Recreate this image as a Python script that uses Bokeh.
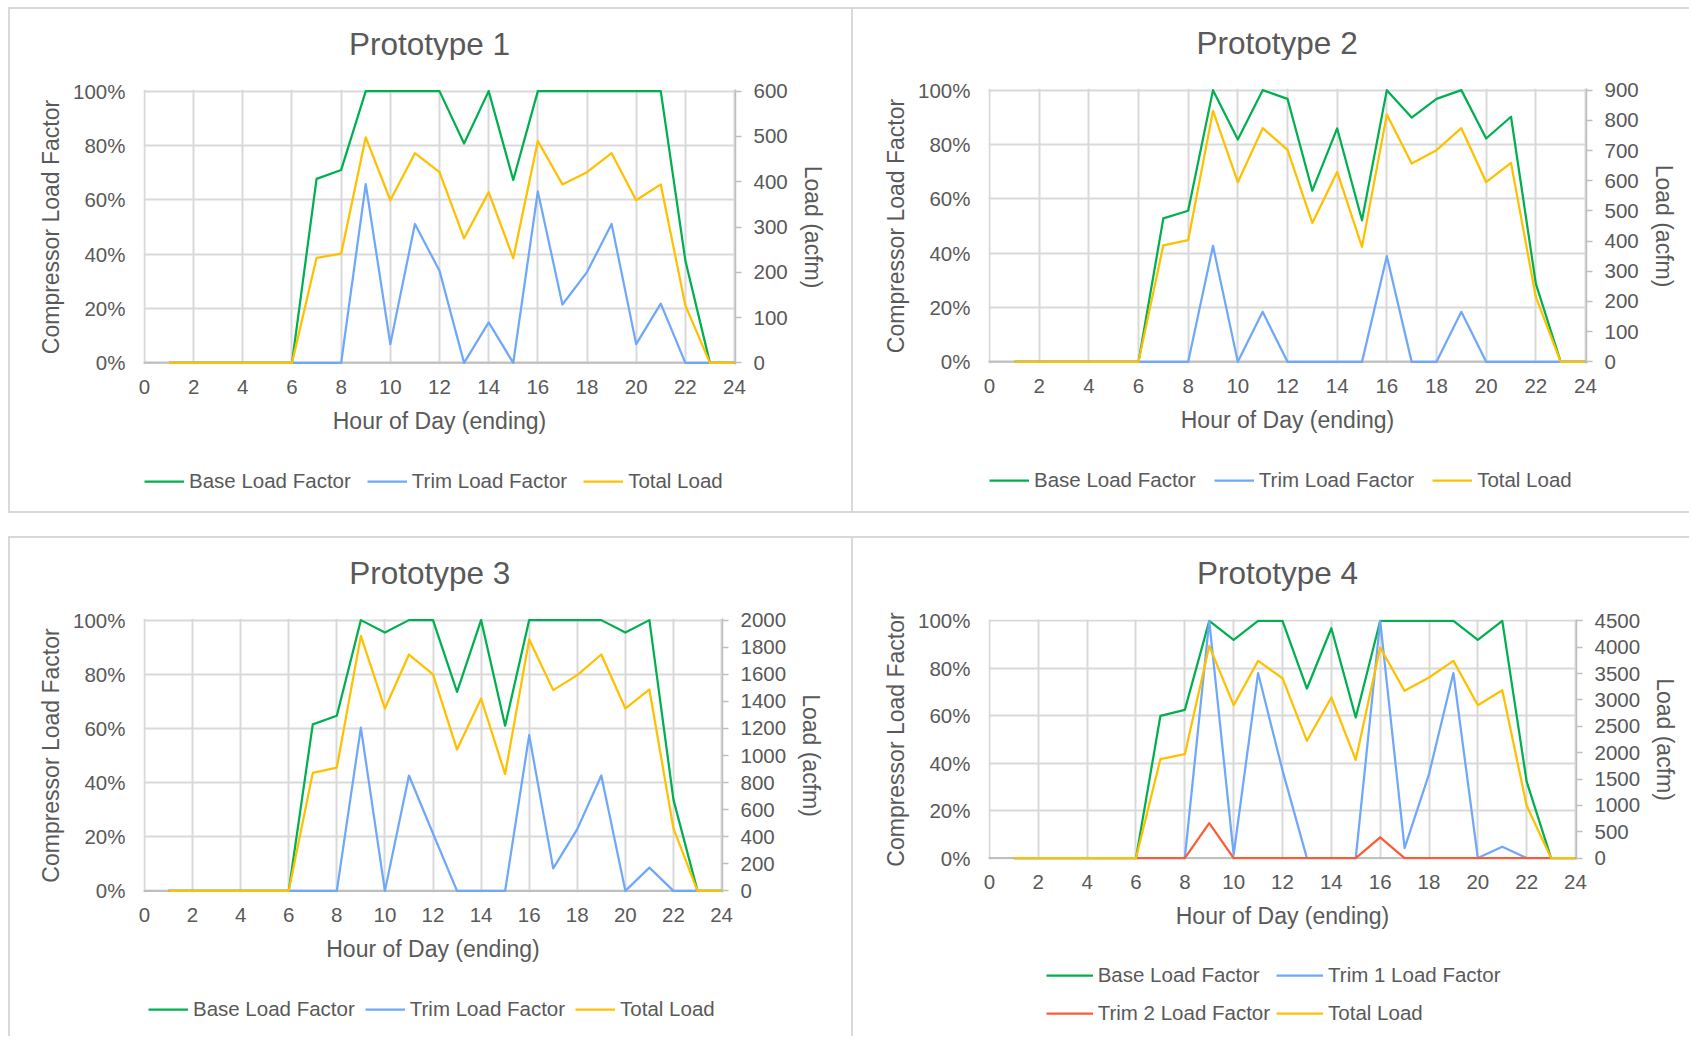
import math
from bokeh.plotting import figure
from bokeh.models import (Range1d, LinearAxis, FixedTicker, NumeralTickFormatter,
                          Legend, LegendItem, Span, Label)
from bokeh.layouts import column, row
from bokeh.embed import file_html
from bokeh.resources import INLINE

# ---------------- data ----------------
hours = list(range(1, 25))
x_ticks = list(range(0, 25, 2))
pct_ticks = [0, 0.2, 0.4, 0.6, 0.8, 1.0]

p1_base = [0, 0, 0, 0, 0, 0, 0.677, 0.71, 1, 1, 1, 1, 0.807, 1, 0.673, 1, 1, 1, 1, 1, 1, 0.377, 0, 0]
p1_trim = [0, 0, 0, 0, 0, 0, 0, 0, 0.658, 0.069, 0.511, 0.339, 0, 0.149, 0, 0.631, 0.215, 0.334, 0.511, 0.069, 0.218, 0, 0, 0]
p1_total = [0, 0, 0, 0, 0, 0, 232, 241, 498, 359, 463, 421, 275, 377, 231, 490, 394, 421, 463, 359, 394, 127, 0, 0]

p2_base = [0, 0, 0, 0, 0, 0, 0.528, 0.556, 1, 0.818, 1, 0.968, 0.63, 0.859, 0.521, 1, 0.899, 0.968, 1, 0.822, 0.902, 0.288, 0, 0]
p2_trim = [0, 0, 0, 0, 0, 0, 0, 0, 0.427, 0, 0.184, 0, 0, 0, 0, 0.389, 0, 0, 0.184, 0, 0, 0, 0, 0]
p2_total = [0, 0, 0, 0, 0, 0, 386, 403, 831, 595, 774, 702, 460, 629, 381, 819, 657, 701, 774, 595, 659, 215, 0, 0]

p3_base = [0, 0, 0, 0, 0, 0, 0.615, 0.647, 1, 0.954, 1, 1, 0.735, 1, 0.61, 1, 1, 1, 1, 0.954, 1, 0.337, 0, 0]
p3_trim = [0, 0, 0, 0, 0, 0, 0, 0, 0.603, 0, 0.426, 0.212, 0, 0, 0, 0.575, 0.083, 0.228, 0.426, 0, 0.086, 0, 0, 0]
p3_total = [0, 0, 0, 0, 0, 0, 872, 911, 1884, 1347, 1746, 1599, 1044, 1421, 862, 1857, 1483, 1594, 1746, 1347, 1488, 461, 0, 0]

p4_base = [0, 0, 0, 0, 0, 0, 0.60, 0.625, 1, 0.92, 1, 1, 0.715, 0.969, 0.593, 1, 1, 1, 1, 0.92, 1, 0.322, 0, 0]
p4_trim1 = [0, 0, 0, 0, 0, 0, 0, 0, 1, 0.015, 0.78, 0.37, 0, 0, 0, 1, 0.042, 0.354, 0.78, 0, 0.048, 0, 0, 0]
p4_trim2 = [0, 0, 0, 0, 0, 0, 0, 0, 0.147, 0, 0, 0, 0, 0, 0, 0.087, 0, 0, 0, 0, 0, 0, 0, 0]
p4_total = [0, 0, 0, 0, 0, 0, 1877, 1972, 4026, 2901, 3742, 3413, 2225, 3047, 1865, 3995, 3173, 3426, 3742, 2901, 3186, 992, 0, 0]

titles = ["Prototype 1", "Prototype 2", "Prototype 3", "Prototype 4"]
load_max = [600, 900, 2000, 4500]
load_step = [100, 100, 200, 500]

# ---------------- style ----------------
FONT = "Liberation Sans"
TXT = "#595959"
GRID = "#D9D9D9"
AXIS = "#BFBFBF"
GREEN = "#00B050"
BLUE = "#6FA8FA"
YELLOW = "#FFC000"
RED = "#FF5A36"
LW = 2.25


def blank_fig(w, h, xr):
    f = figure(width=w, height=h, output_backend="svg", toolbar_location=None,
               x_range=Range1d(*xr), y_range=Range1d(0, h),
               x_axis_location=None, y_axis_location=None, min_border=0,
               outline_line_color=None, background_fill_color=None, border_fill_color=None)
    for g in f.grid:
        g.visible = False
    return f


def make_panel(title, series, lmax, lstep, geo):
    cx, cy, w, h = geo["canvas"]
    th, mh = geo["rows"]          # heights of title strip and chart strip
    lh = h - th - mh              # legend strip
    my = cy + th                  # top of chart strip (page)
    x0, x24, y100, y0 = geo["frame"]
    padx, pady = 0.04, 0.006
    pxh = (x24 - x0) / 24.0
    pyu = (y0 - y100)
    fl = x0 - padx * pxh
    fr = x24 + padx * pxh
    ft = y100 - pady * pyu
    fb = y0 + pady * pyu

    # ---- title strip (its frame is aligned with the chart frame) ----
    tf = blank_fig(w, th, (fl, fr))
    tx, ty = geo["title"]
    tf.add_layout(Label(x=tx, y=th - (ty - cy), text=title, text_align="center",
                        text_baseline="middle", text_font=FONT, text_font_size="31.5px",
                        text_color=TXT))

    # ---- chart ----
    p = figure(width=w, height=mh, output_backend="svg", toolbar_location=None,
               x_range=Range1d(-padx, 24 + padx), y_range=Range1d(-pady, 1 + pady),
               min_border_left=int(round(fl - cx)), min_border_right=int(round(cx + w - fr)),
               min_border_top=int(round(ft - my)), min_border_bottom=int(round(my + mh - fb)),
               border_fill_color=None, outline_line_color=None)
    p.extra_y_ranges = {"load": Range1d(-pady * lmax, lmax * (1 + pady))}

    p.xgrid.grid_line_color = GRID
    p.ygrid.grid_line_color = GRID
    p.xgrid.grid_line_width = 2
    p.ygrid.grid_line_width = 2
    p.add_layout(Span(location=0, dimension="width", line_color=AXIS, line_width=2, level="underlay"))

    xa = p.xaxis[0]
    xa.ticker = FixedTicker(ticks=x_ticks)
    xa.axis_line_color = None
    xa.major_tick_line_color = None
    xa.minor_tick_line_color = None
    xa.major_label_standoff = 9
    xa.axis_label = "Hour of Day (ending)"
    xa.axis_label_standoff = 11

    ya = p.yaxis[0]
    ya.ticker = FixedTicker(ticks=pct_ticks)
    ya.formatter = NumeralTickFormatter(format="0%")
    ya.axis_line_color = None
    ya.major_tick_line_color = None
    ya.minor_tick_line_color = None
    ya.major_label_standoff = 12
    ya.axis_label = "Compressor Load Factor"
    ya.axis_label_standoff = 6

    ra = LinearAxis(y_range_name="load", ticker=FixedTicker(ticks=list(range(0, lmax + 1, lstep))),
                    axis_label="Load (acfm)")
    ra.axis_line_color = AXIS
    ra.axis_line_width = 1.5
    ra.major_tick_line_color = AXIS
    ra.major_tick_line_width = 1.5
    ra.major_tick_out = 6
    ra.major_tick_in = 0
    ra.minor_tick_line_color = None
    ra.major_label_standoff = 12
    ra.axis_label_standoff = 9
    p.add_layout(ra, "right")

    for ax in (xa, ya, ra):
        ax.major_label_text_font = FONT
        ax.major_label_text_font_size = "20.5px"
        ax.major_label_text_color = TXT
        ax.axis_label_text_font = FONT
        ax.axis_label_text_font_size = "23px"
        ax.axis_label_text_color = TXT
        ax.axis_label_text_font_style = "normal"

    # ---- legend strip (its frame is aligned with the chart frame) ----
    lf = blank_fig(w, lh, (fl, fr))
    items = []
    for name, vals, color, rng in series:
        kw = {}
        if rng is not None:
            kw["y_range_name"] = rng
        p.line(hours, vals, line_color=color, line_width=LW, line_join="round", **kw)
        # single-point proxy (draws nothing) so the legend swatch has its style
        sw = lf.line(x=hours[:1], y=[-1000], line_color=color, line_width=LW)
        items.append(LegendItem(label=name, renderers=[sw]))

    lx, lyc, ncols, spacing, gh, gw = geo["legend"]
    nrows = (len(items) + ncols - 1) // ncols
    legend_bottom = lyc - gh / 2.0 + nrows * gh + (nrows - 1) * spacing
    leg = Legend(items=items, location=(lx - fl, cy + h - legend_bottom),
                 orientation="horizontal", ncols=ncols, spacing=spacing, padding=0, margin=0,
                 glyph_width=gw, glyph_height=gh, label_height=gh, label_standoff=5,
                 label_text_font=FONT, label_text_font_size="20.5px", label_text_color=TXT,
                 border_line_color=None, background_fill_alpha=0)
    lf.add_layout(leg, "center")

    return column(tf, p, lf, spacing=0, styles={"box-shadow": geo["shadow"]})


geos = [
    dict(canvas=(0, 0, 851, 513), rows=(60, 390), frame=(143.6, 734.4, 90.7, 362.3), title=(429, 43),
         legend=(143.6, 480.7, 3, 16, 24, 40),
         shadow="inset 8px 0 0 0 #FFFFFF, inset 0 7px 0 0 #FFFFFF, inset 10px 0 0 0 #D9D9D9, "
                "inset 0 9px 0 0 #D9D9D9, inset 0 -2px 0 0 #D9D9D9"),
    dict(canvas=(851, 0, 838, 513), rows=(60, 390), frame=(989.3, 1585.5, 90.0, 361.7), title=(1277, 42),
         legend=(989.3, 480.0, 3, 18, 24, 40),
         shadow="inset 0 7px 0 0 #FFFFFF, inset 2px 0 0 0 #D9D9D9, inset 0 9px 0 0 #D9D9D9, "
                "inset 0 -2px 0 0 #D9D9D9"),
    dict(canvas=(0, 536, 851, 500), rows=(60, 384), frame=(143.6, 720.9, 620.0, 890.7), title=(429, 572.7),
         legend=(147.6, 1009.3, 3, 10, 24, 40),
         shadow="inset 8px 0 0 0 #FFFFFF, inset 10px 0 0 0 #D9D9D9, inset 0 2px 0 0 #D9D9D9"),
    dict(canvas=(851, 536, 838, 500), rows=(60, 354), frame=(989.3, 1574.7, 620.0, 857.3), title=(1277, 572.7),
         legend=(1046, 975.0, 2, 6, 32, 47),
         shadow="inset 2px 2px 0 0 #D9D9D9"),
]

series_sets = [
    [("Base Load Factor", p1_base, GREEN, None), ("Trim Load Factor", p1_trim, BLUE, None),
     ("Total Load", p1_total, YELLOW, "load")],
    [("Base Load Factor", p2_base, GREEN, None), ("Trim Load Factor", p2_trim, BLUE, None),
     ("Total Load", p2_total, YELLOW, "load")],
    [("Base Load Factor", p3_base, GREEN, None), ("Trim Load Factor", p3_trim, BLUE, None),
     ("Total Load", p3_total, YELLOW, "load")],
    [("Base Load Factor", p4_base, GREEN, None), ("Trim 1 Load Factor", p4_trim1, BLUE, None),
     ("Trim 2 Load Factor", p4_trim2, RED, None), ("Total Load", p4_total, YELLOW, "load")],
]

panels = [make_panel(titles[i], series_sets[i], load_max[i], load_step[i], geos[i]) for i in range(4)]

layout = column(row(panels[0], panels[1], spacing=0), row(panels[2], panels[3], spacing=0),
                spacing=23)

with open("out.html", "w") as f:
    f.write(file_html(layout, INLINE))
